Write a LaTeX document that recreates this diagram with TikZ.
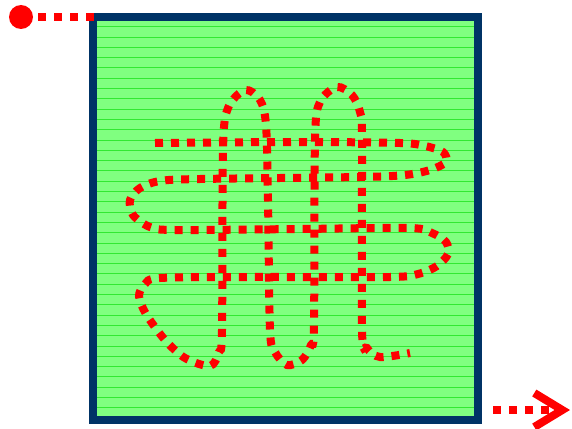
\documentclass[tikz,border=0pt]{standalone}
\usepackage{tikz}
\usetikzlibrary{arrows.meta}
\definecolor{borderblue}{RGB}{0,51,102}
\definecolor{fieldgreen}{RGB}{128,255,128}
\definecolor{rulegreen}{RGB}{50,232,50}
\begin{document}
\begin{tikzpicture}[x=1pt,y=-1pt]
\tikzstyle{route}=[draw=red,line width=8pt,dash pattern=on 8pt off 8pt]
\tikzstyle{rule}=[draw=rulegreen,line width=0.9pt]
\tikzstyle{wall}=[draw=borderblue,line width=8pt]
\tikzstyle{robot}=[circle,fill=red,minimum size=24pt,inner sep=0pt]
    \useasboundingbox (0,0) rectangle (572,428);
    \fill[fieldgreen] (93,17) rectangle (477.5,420);
    \foreach \k in {0,...,37}
      \draw[rule] (97,26.7+10.3*\k) -- (473.5,26.7+10.3*\k);
    \draw[wall] (93,17) rectangle (477.5,420);
    \node[robot] (start) at (21,17) {};
    \coordinate (entry) at (94,17);
    \coordinate (exit) at (493,410);
    \coordinate (goal) at (570,410);
    \draw[route] ([xshift=5pt]start.east) -- (entry);
    \draw[route,-{Straight Barb[length=28pt,width=34pt]}] (exit) -- (goal);
    \draw[route] plot[smooth,tension=0.5] coordinates {
      (155,143) (300,142) (400,143) (425,146) (443,152) (446,162) (430,170)
      (405,175) (360,177) (200,179) (160,181) (140,188) (130,200) (133,215)
      (150,227) (175,230) (300,229) (410,228) (432,233) (446,242) (448,254)
      (437,266) (418,274) (390,277) (250,277) (160,278) (145,284) (139,296)
      (146,314) (165,340) (185,358) (210,366) (219,352) (222,330) (223,150)
      (228,108) (245,90) (260,100) (266,125) (268,200) (270,330) (275,352)
      (287,365) (302,360) (311,345) (314,325) (315,140) (320,102) (337,87)
      (352,95) (360,112) (362,140) (362,330) (367,348) (380,357) (410,353)};
\end{tikzpicture}
\end{document}
